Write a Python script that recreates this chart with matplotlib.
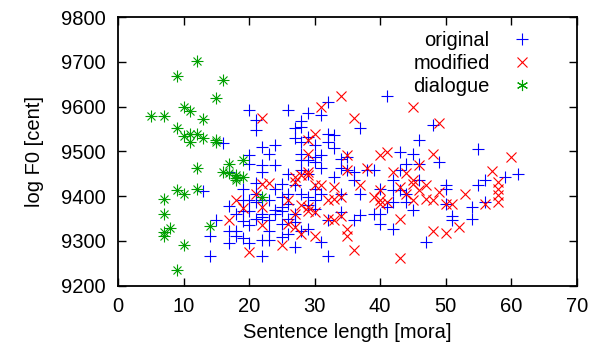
import matplotlib.pyplot as plt

# sentence length [mora] vs log F0 [cent]
orig_x = [13, 14, 14, 15, 16,
          17, 17, 17, 17,
          18, 18, 18,
          19, 19, 19, 19, 19,
          20, 20, 20, 20, 20, 20, 20,
          21, 21, 21, 21, 21, 21,
          22, 22, 22, 22, 22, 22, 22, 22,
          23, 23, 23, 23, 23,
          24, 24, 24, 24, 24,
          25, 25, 25, 25, 25, 25,
          26, 26, 26, 26, 26, 26,
          27, 27, 27, 27, 27, 27,
          28, 28, 28, 28, 28, 28, 28, 28,
          29, 29, 29, 29, 29, 29, 29,
          30, 30, 30, 30, 30, 30,
          31, 31, 31, 31, 31,
          32, 32, 32, 32, 32,
          33, 33, 33,
          34, 34, 34, 34,
          35, 35,
          36, 36, 36,
          37, 37, 37,
          38, 39, 39,
          40, 40, 40,
          41, 41,
          42, 42, 42, 42,
          43, 43, 43,
          44, 44, 44,
          45, 45,
          46, 46, 46,
          47, 48, 49,
          50, 50, 50,
          51, 51,
          54, 54,
          55, 55,
          56, 56,
          59, 61]
orig_y = [9411, 9311, 9267, 9346, 9519,
          9453, 9377, 9323, 9296,
          9361, 9323, 9312,
          9417, 9391, 9366, 9344, 9306,
          9593, 9492, 9473, 9391, 9366, 9335, 9295,
          9570, 9548, 9430, 9406, 9387, 9350,
          9510, 9469, 9454, 9391, 9361, 9353, 9301, 9267,
          9495, 9391, 9346, 9323, 9302,
          9514, 9469, 9417, 9370, 9361,
          9428, 9398, 9376, 9368, 9338, 9308,
          9593, 9450, 9406, 9383, 9350, 9316,
          9552, 9530, 9424, 9361, 9342, 9287,
          9567, 9555, 9522, 9495, 9480, 9458, 9406, 9323,
          9585, 9533, 9480, 9450, 9398, 9380, 9327,
          9514, 9488, 9477, 9417, 9391, 9372,
          9581, 9492, 9462, 9406, 9297,
          9611, 9540, 9522, 9346, 9267,
          9537, 9507, 9443,
          9484, 9462, 9406, 9365,
          9488, 9458,
          9454, 9436, 9346,
          9552, 9406, 9357,
          9458, 9458, 9361,
          9417, 9361, 9338,
          9624, 9376,
          9436, 9413, 9387, 9327,
          9499, 9458, 9413,
          9473, 9406, 9387,
          9495, 9370,
          9526, 9473, 9436,
          9297, 9559, 9477,
          9424, 9417, 9383,
          9355, 9346,
          9376, 9350,
          9505, 9424,
          9436, 9387,
          9443, 9450]

mod_x = [17, 18, 19, 20, 21,
         22, 22, 22, 22,
         23, 25, 26, 26,
         27, 27, 27, 27,
         28, 28, 28,
         29, 29, 29, 29, 29, 29,
         30, 30, 30, 30,
         31, 31,
         32, 32,
         33, 33, 33,
         34, 34, 34,
         35, 35, 35, 35,
         36, 36, 37, 38, 39,
         40, 40, 40, 40,
         41, 41, 42,
         43, 43, 43,
         44, 44,
         45, 45, 45, 45,
         46, 46, 47, 47,
         48, 48, 48,
         49, 49, 50, 50,
         51, 52, 53, 56, 57,
         58, 58, 58, 58, 60]
mod_y = [9346, 9392, 9374, 9275, 9406,
         9574, 9428, 9376, 9335,
         9430, 9290, 9338, 9391,
         9443, 9432, 9361, 9331,
         9380, 9316, 9447,
         9525, 9495, 9454, 9447, 9376, 9368,
         9540, 9424, 9365, 9312,
         9600, 9424,
         9391, 9350,
         9421, 9346, 9394,
         9623, 9398, 9355,
         9492, 9458, 9327, 9312,
         9574, 9280, 9424, 9462, 9398,
         9492, 9413, 9391, 9383,
         9499, 9387, 9454,
         9421, 9350, 9262,
         9452, 9406,
         9600, 9436, 9428, 9391,
         9469, 9413, 9424, 9394,
         9495, 9391, 9323,
         9563, 9409, 9383, 9317,
         9383, 9331, 9406, 9383, 9457,
         9432, 9417, 9402, 9387, 9487]

dial_x = [5, 7, 7, 7, 7, 7, 8,
          9, 9, 9, 9,
          10, 10, 10, 10,
          11, 11, 11,
          12, 12, 12, 12,
          13, 13, 14,
          15, 15, 15,
          16, 16, 17, 17,
          18, 18, 18, 19, 19, 22]
dial_y = [9580, 9580, 9393, 9360, 9320, 9310, 9330,
          9668, 9553, 9413, 9235,
          9600, 9535, 9405, 9290,
          9590, 9540, 9522,
          9703, 9540, 9462, 9415,
          9572, 9530, 9334,
          9620, 9525, 9522,
          9660, 9453, 9472, 9452,
          9448, 9437, 9440, 9480, 9442, 9398]

plt.rcParams['font.family'] = ['Liberation Sans', 'DejaVu Sans']

fs = 14.5
fig, ax = plt.subplots(figsize=(6.02, 3.45), dpi=100)
fig.subplots_adjust(left=0.196, right=0.958, top=0.95, bottom=0.172)

ms = 8
lw = 0.8
ax.plot(orig_x, orig_y, linestyle='none', marker='+', color='#0000ff',
        markersize=ms, markeredgewidth=lw, label='original')
ax.plot(mod_x, mod_y, linestyle='none', marker='x', color='#ff0000',
        markersize=ms * 0.9, markeredgewidth=lw, label='modified')

# gnuplot style star: plus and cross on top of each other
ax.plot(dial_x, dial_y, linestyle='none', marker='+', color='#00a000',
        markersize=ms, markeredgewidth=lw)
ax.plot(dial_x, dial_y, linestyle='none', marker='x', color='#00a000',
        markersize=ms * 0.75, markeredgewidth=lw)
# legend proxy for the star
ax.plot([], [], linestyle='none', marker=(6, 2, 0), color='#00a000',
        markersize=ms, markeredgewidth=lw, label='dialogue')

ax.set_xlim(0, 70)
ax.set_ylim(9200, 9800)
ax.set_xticks(range(0, 71, 10))
ax.set_yticks(range(9200, 9801, 100))
ax.tick_params(direction='in', length=6, width=1, top=True, right=True,
               labelsize=fs)
ax.tick_params(axis='x', pad=8)
ax.tick_params(axis='y', pad=9)
for s in ax.spines.values():
    s.set_linewidth(1.3)

ax.set_xlabel('Sentence length [mora]', fontsize=fs, labelpad=5)
ax.set_ylabel('log F0 [cent]', fontsize=fs, labelpad=12)

ax.legend(loc='upper right', frameon=False, markerfirst=False,
          handletextpad=0.6, labelspacing=0.2, borderaxespad=0.3,
          bbox_to_anchor=(0.955, 1.0), fontsize=fs)

plt.savefig('out.png', dpi=100)
plt.close()
